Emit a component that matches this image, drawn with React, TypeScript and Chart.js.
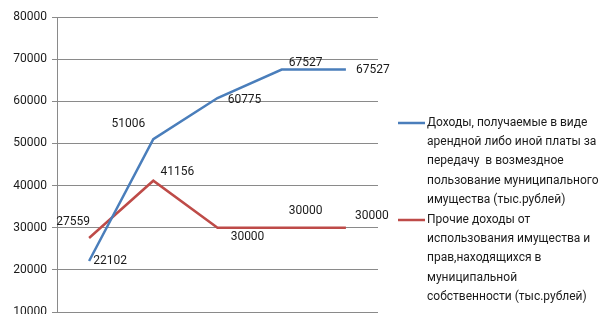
import { useEffect, useRef } from 'react';
import { Chart, registerables } from 'chart.js';
Chart.register(...registerables);

const categories = ['1', '2', '3', '4', '5'];
const rentIncome = [22102, 51006, 60775, 67527, 67527];
const otherIncome = [27559, 41156, 30000, 30000, 30000];
const yMin = 10000;
const yMax = 80000;
const yStep = 10000;
const rentLegend = [
  'Доходы, получаемые в виде',
  'арендной либо иной платы за',
  'передачу  в возмездное',
  'пользование муниципального',
  'имущества (тыс.рублей)',
];
const otherLegend = [
  'Прочие доходы от',
  'использования имущества и',
  'прав,находящихся в',
  'муниципальной',
  'собственности (тыс.рублей)',
];

// label offsets (centre of text relative to the point)
const rentLabelOffsets = [[21, 0], [-25, -15], [27, 2], [24, -7], [27, 0]];
const otherLabelOffsets = [[-16, -16], [24, -9], [30, 9], [24, -17], [26, -12]];

const BLUE = '#4a7ebb';
const RED = '#be4b48';
const FONT = 'Roboto';

const labelsPlugin = {
  id: 'valueLabels',
  afterDatasetsDraw(chart: any) {
    const ctx = chart.ctx;
    ctx.save();
    ctx.font = `12px ${FONT}`;
    ctx.fillStyle = '#1a1a1a';
    ctx.textAlign = 'center';
    ctx.textBaseline = 'middle';
    const offs = [rentLabelOffsets, otherLabelOffsets];
    chart.data.datasets.forEach((ds: any, di: number) => {
      const meta = chart.getDatasetMeta(di);
      meta.data.forEach((pt: any, i: number) => {
        const [dx, dy] = offs[di][i];
        ctx.fillText(String(ds.data[i]), pt.x + dx, pt.y + dy);
      });
    });
    ctx.restore();
  },
};

const legendPlugin = {
  id: 'sideLegend',
  afterDraw(chart: any) {
    const ctx = chart.ctx;
    const area = chart.chartArea;
    ctx.save();
    ctx.font = `12px ${FONT}`;
    ctx.textBaseline = 'middle';
    ctx.textAlign = 'left';
    const lineX = area.right + 20;
    const textX = area.right + 49;
    const groups = [
      { lines: rentLegend, color: BLUE, y: 123 },
      { lines: otherLegend, color: RED, y: 220 },
    ];
    groups.forEach((g) => {
      ctx.strokeStyle = g.color;
      ctx.lineWidth = 2.5;
      ctx.beginPath();
      ctx.moveTo(lineX, g.y);
      ctx.lineTo(lineX + 27, g.y);
      ctx.stroke();
      ctx.fillStyle = '#1a1a1a';
      g.lines.forEach((t, i) => ctx.fillText(t, textX, g.y + i * 19.2));
    });
    ctx.restore();
  },
};

export default function App() {
  const ref = useRef<HTMLCanvasElement>(null);
  useEffect(() => {
    if (!ref.current) return;
    const chart = new Chart(ref.current, {
      type: 'line',
      data: {
        labels: categories,
        datasets: [
          { label: rentLegend.join(' '), data: rentIncome, borderColor: BLUE, borderWidth: 2.5, pointRadius: 0, tension: 0 },
          { label: otherLegend.join(' '), data: otherIncome, borderColor: RED, borderWidth: 2.5, pointRadius: 0, tension: 0 },
        ],
      },
      options: {
        animation: false,
        responsive: false,
        maintainAspectRatio: false,
        layout: { padding: { left: 0, right: 221, top: 17, bottom: 18 } },
        plugins: { legend: { display: false }, tooltip: { enabled: false } },
        scales: {
          x: { display: false, offset: true },
          y: {
            min: yMin,
            max: yMax,
            ticks: {
              stepSize: yStep,
              color: '#1a1a1a',
              font: { family: FONT, size: 12 },
              padding: 5,
              callback: (v: any) => String(v),
            },
            grid: { color: '#8a8a8a', lineWidth: 1, tickLength: 5 },
            border: { color: '#8a8a8a', width: 1 },
            afterFit(scale: any) { scale.width = 57; },
          },
        },
      },
      plugins: [labelsPlugin, legendPlugin],
    });
    return () => chart.destroy();
  }, []);
  return (
    <div style={{ position: 'absolute', left: 0, top: 0, width: 599, height: 314, overflow: 'hidden', background: '#fff' }}>
      <canvas ref={ref} width={599} height={330} style={{ display: 'block' }} />
    </div>
  );
}
